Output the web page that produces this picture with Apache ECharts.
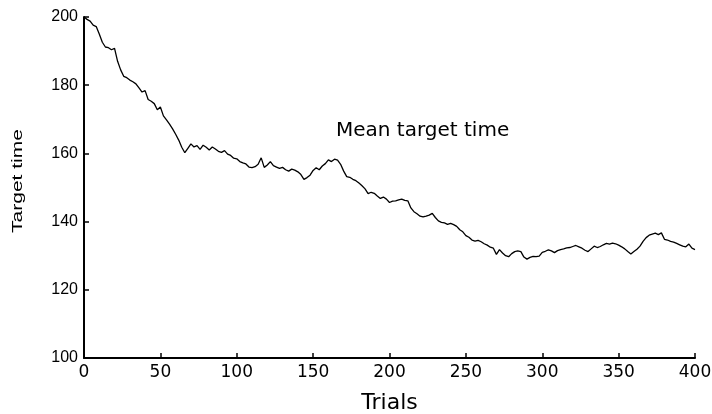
<!DOCTYPE html>
<html>
<head>
<meta charset="utf-8">
<script src="https://cdn.jsdelivr.net/npm/echarts@6/dist/echarts.min.js"></script>
<style>
html,body{margin:0;padding:0;background:#fff;}
#chart{width:712px;height:414px;}
</style>
</head>
<body>
<div id="chart"></div>
<script>
const trials = [];
for (let t = 0; t <= 400; t += 2) trials.push(t);
const meanTargetTime = [
200.0,199.3,198.8,197.6,197.2,195.0,192.6,191.2,191.0,190.4,
190.8,187.0,184.5,182.6,182.2,181.5,181.0,180.4,179.2,178.0,
178.4,175.8,175.3,174.6,172.8,173.6,171.0,169.8,168.6,167.2,
165.6,163.9,161.8,160.2,161.5,162.8,161.9,162.3,161.2,162.4,
161.8,161.0,161.9,161.3,160.6,160.3,160.8,159.8,159.4,158.6,
158.4,157.6,157.2,156.9,156.0,155.8,156.1,156.8,158.7,155.9,
156.6,157.6,156.4,156.0,155.6,155.9,155.2,154.8,155.4,155.1,
154.6,153.8,152.4,152.9,153.6,155.0,155.8,155.2,156.3,157.0,
158.1,157.6,158.3,158.0,156.8,154.8,153.2,153.0,152.4,152.0,
151.3,150.5,149.6,148.2,148.6,148.3,147.5,146.8,147.2,146.6,
145.6,146.0,146.1,146.4,146.6,146.2,146.1,144.0,142.9,142.3,
141.6,141.4,141.6,141.9,142.4,141.2,140.2,139.8,139.6,139.2,
139.5,139.1,138.6,137.6,137.0,135.9,135.4,134.6,134.3,134.5,
134.1,133.5,133.1,132.5,132.2,130.4,131.8,130.8,130.0,129.7,
130.6,131.2,131.4,131.2,129.6,129.0,129.5,129.8,129.7,129.9,
131.0,131.3,131.7,131.4,130.9,131.5,131.8,132.0,132.3,132.4,
132.7,133.0,132.6,132.2,131.6,131.2,132.0,132.8,132.4,132.7,
133.2,133.6,133.4,133.7,133.5,133.1,132.6,132.0,131.2,130.5,
131.2,131.9,132.8,134.2,135.3,136.0,136.3,136.6,136.2,136.7,
134.8,134.6,134.2,134.0,133.6,133.2,132.8,132.6,133.4,132.2,
131.8
];
const seriesLabel = 'Mean target time';
const xTitle = 'Trials';
const yTitle = 'Target time';

const chart = echarts.init(document.getElementById('chart'), null, {renderer:'canvas'});
const lib = 'Liberation Sans, Arial, Helvetica, sans-serif';
const dv = 'DejaVu Sans, Verdana, sans-serif';
chart.setOption({
  animation:false,
  backgroundColor:'#fff',
  grid:{left:84,right:17,top:17,bottom:56,containLabel:false,outerBoundsMode:'none'},
  graphic:[
    {type:'text',left:336,top:121,style:{text:seriesLabel,fill:'#000',font:'20px '+dv}},
    {type:'text',x:18.5,y:181,rotation:Math.PI/2,scaleX:1.5,scaleY:1,
     style:{text:yTitle,fill:'#000',font:'14px '+lib,align:'center',verticalAlign:'middle'}}
  ],
  xAxis:{
    type:'value',min:0,max:400,interval:50,
    name:xTitle,nameLocation:'middle',nameGap:34,
    nameTextStyle:{color:'#000',fontSize:22,fontFamily:dv},
    axisLine:{show:true,onZero:false,lineStyle:{color:'#000',width:2}},
    axisTick:{show:true,inside:true,length:5,lineStyle:{color:'#000',width:1.5}},
    axisLabel:{color:'#000',fontSize:17,fontFamily:dv,margin:6},
    splitLine:{show:false}
  },
  yAxis:{
    type:'value',min:100,max:200,interval:20,
    axisLine:{show:true,lineStyle:{color:'#000',width:2}},
    axisTick:{show:true,inside:true,length:5,lineStyle:{color:'#000',width:1.5}},
    axisLabel:{color:'#000',fontSize:16,fontFamily:lib,margin:6},
    splitLine:{show:false}
  },
  series:[{
    type:'line',name:seriesLabel,
    data:trials.map((t,i)=>[t,meanTargetTime[i]]),
    showSymbol:false,symbol:'none',
    lineStyle:{color:'#000',width:1.3}
  }]
});
</script>
</body>
</html>
